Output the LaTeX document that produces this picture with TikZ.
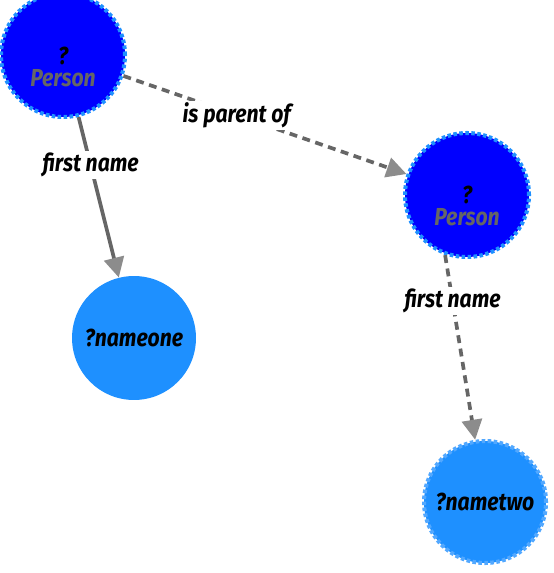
\documentclass[tikz,border=0pt]{standalone}
\usepackage{fontspec}
\setmainfont{Fira Sans}[FakeStretch=0.86]
\usetikzlibrary{arrows.meta}
\definecolor{classblue}{HTML}{0000FF}
\definecolor{varblue}{HTML}{1E90FF}
\definecolor{rimblue}{HTML}{52A8FF}
\definecolor{edgegray}{HTML}{666666}
\definecolor{tipgray}{HTML}{8C8C8C}
\begin{document}
\begin{tikzpicture}[x=0.02cm, y=-0.02cm,
  every node/.style={font=\bfseries\itshape\fontsize{14}{15}\selectfont},
  classnode/.style={circle, fill=classblue, draw=varblue, line width=2.3pt, dash pattern=on 2pt off 1.4pt, minimum size=2.48cm, inner sep=0pt},
  classtext/.style={align=center, inner sep=0pt},
  varnode/.style={circle, fill=varblue, minimum size=2.48cm, inner sep=0pt},
  rimnode/.style={varnode, draw=rimblue, line width=2.3pt, dash pattern=on 2pt off 1.4pt, minimum size=2.44cm},
  link/.style={draw=edgegray, line width=2.1pt, -{Triangle[length=0.4cm, width=0.4cm, color=tipgray]}},
  dashlink/.style={link, dash pattern=on 4.5pt off 3.2pt},
  edgelabel/.style={fill=white, inner sep=1pt}]
\useasboundingbox (0,0) rectangle (553,573);
\node[classnode] (p1) at (63,55) {};
\node[classtext] at (63,67) {?\\[-2pt]\textcolor{edgegray}{Person}};
\node[classnode] (p2) at (467,195) {};
\node[classtext] at (467,206) {?\\[-2pt]\textcolor{edgegray}{Person}};
\node[varnode] (n1) at (134,338) {?nameone};
\node[rimnode] (n2) at (485,502) {?nametwo};
\draw[link] (p1) -- node[edgelabel, pos=0.3] {first name} (n1);
\draw[dashlink] (p1) -- node[edgelabel, pos=0.4] {is parent of} (p2);
\draw[dashlink] (p2.250) -- node[edgelabel, pos=0.25] {first name} (n2.99);
\end{tikzpicture}
\end{document}
